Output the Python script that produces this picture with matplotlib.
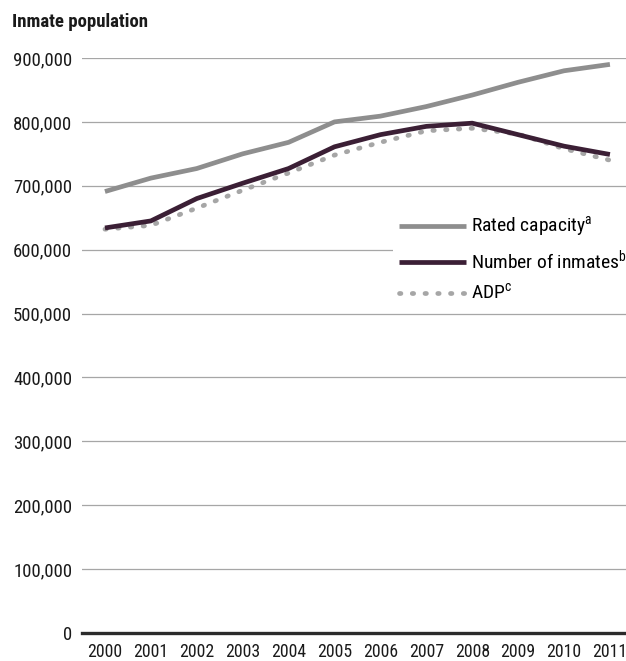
import matplotlib
matplotlib.use("Agg")
import matplotlib.pyplot as plt
from matplotlib import font_manager as fm

years = ["2000", "2001", "2002", "2003", "2004", "2005", "2006", "2007", "2008", "2009", "2010", "2011"]
rated_capacity = [691000, 712000, 727000, 750000, 768000, 800000, 809000, 824000, 842000, 862000, 880000, 890000]
number_of_inmates = [634000, 645000, 680000, 704000, 727000, 761000, 780000, 793000, 798000, 780000, 762000, 749000]
adp = [632000, 638000, 665000, 693000, 720000, 748000, 768000, 786000, 790000, 781000, 758000, 740000]
y_ticks = [0, 100000, 200000, 300000, 400000, 500000, 600000, 700000, 800000, 900000]
labels = ["Rated capacity$^\\mathregular{a}$", "Number of inmates$^\\mathregular{b}$", "ADP$^\\mathregular{c}$"]

names = {f.name for f in fm.fontManager.ttflist}
fam = "DejaVu Sans"
for cand in ["Roboto Condensed", "Liberation Sans Narrow", "DejaVu Sans Condensed", "Open Sans Condensed", "Noto Sans"]:
    if cand in names:
        fam = cand
        break
plt.rcParams['font.family'] = [fam, 'DejaVu Sans']
plt.rcParams['mathtext.fontset'] = 'custom'
plt.rcParams['mathtext.rm'] = fam

W, H = 626, 661
fig = plt.figure(figsize=(W / 100, H / 100), dpi=100)
left = 82 / W
bottom = 1 - 633 / H
top = 1 - 58 / H
ax = fig.add_axes([left, bottom, 1.0 - left, top - bottom])

x = list(range(len(years)))
LW = 3.4
ax.plot(x, rated_capacity, color="#8e8e8e", lw=LW, solid_capstyle="butt", label=labels[0], zorder=3)
ax.plot(x, adp, color="#a6a6a6", lw=LW, ls=(0, (0.3, 2.4)), dash_capstyle="round", label=labels[2], zorder=3)
ax.plot(x, number_of_inmates, color="#3b1f35", lw=LW, solid_capstyle="butt", label=labels[1], zorder=4)

ax.set_xlim(-0.5, 11.35)
ax.set_ylim(0, 900000)
ax.set_yticks(y_ticks)
ax.set_yticklabels([f"{v:,}" for v in y_ticks])
ax.set_xticks(x)
ax.set_xticklabels(years)
ax.grid(axis="y", color="#a6a6a6", lw=0.9)
ax.set_axisbelow(True)
for s in ["top", "right", "left"]:
    ax.spines[s].set_visible(False)
ax.spines["bottom"].set_color("#2b2b2b")
ax.spines["bottom"].set_linewidth(2.4)
ax.spines["bottom"].set_zorder(5)
ax.tick_params(axis="both", length=0, colors="#1a1a1a")
ax.tick_params(axis="y", pad=7, labelsize=13.5)
ax.tick_params(axis="x", pad=7, labelsize=12.8)
ax.set_facecolor("none")

handles, lbls = ax.get_legend_handles_labels()
handles = [handles[0], handles[2], handles[1]]
lbls = [lbls[0], lbls[2], lbls[1]]
leg = fig.legend(handles, lbls, loc="center left", bbox_to_anchor=(393 / W, 1 - 259 / H),
                 bbox_transform=fig.transFigure, frameon=True, facecolor="white", edgecolor="none",
                 framealpha=1, fancybox=False, fontsize=14, handlelength=3.45, handletextpad=0.28,
                 labelspacing=0.5, borderpad=0.3, borderaxespad=0)
leg.set_zorder(10)

fig.text(12 / W, 1 - 22 / H, "Inmate population", fontsize=13.5, fontweight="bold", color="#1a1a1a",
         ha="left", va="center")

fig.savefig("out.png", dpi=100)
